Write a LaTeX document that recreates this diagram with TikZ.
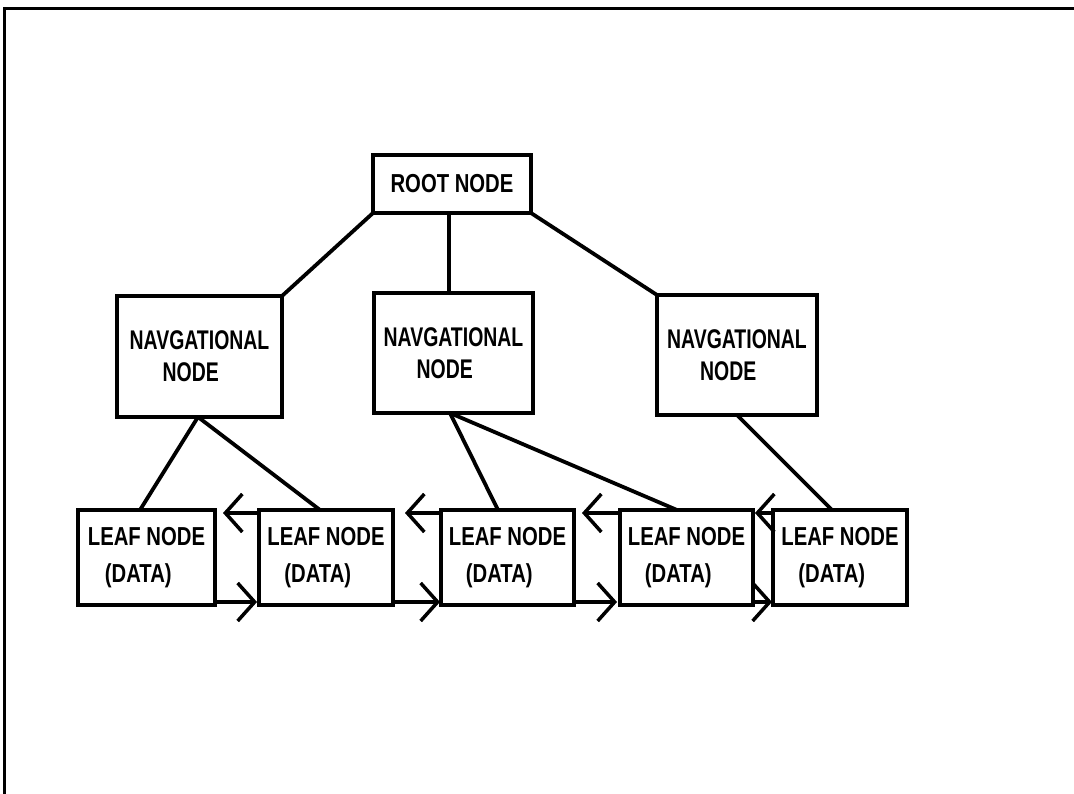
\documentclass[tikz,border=0pt]{standalone}
\usepackage{fontspec}
\setmainfont{Liberation Sans}[FakeStretch=0.78]
\newfontfamily\navfont{Liberation Sans}[FakeStretch=0.72]
\usetikzlibrary{arrows.meta,calc}
\begin{document}
\begin{tikzpicture}[x=1pt,y=-1pt,
  box/.style={draw, line width=3.5pt, inner sep=0pt, outer sep=0pt, align=left},
  rootbox/.style={box, minimum width=158pt, minimum height=58pt, font=\fontsize{26}{30}\selectfont\bfseries},
  navbox/.style={box, minimum height=120pt, font=\navfont\fontsize{27}{32}\selectfont\bfseries},
  leafbox/.style={box, minimum height=95pt, font=\fontsize{26}{37}\selectfont\bfseries},
  link/.style={line width=3.8pt},
  chev/.style={line width=3.5pt, -{Straight Barb[length=17pt,width=38pt,line width=3.5pt]}}
]
\useasboundingbox (0,0) rectangle (1074,794);
\draw[line width=3pt] (4,794) -- (4,9) -- (1074,9);

\node[rootbox] (root) at (452,184) {ROOT NODE};

\node[navbox, minimum width=165pt, minimum height=121pt] (n1) at (199.5,356.5) {NAVGATIONAL\\\hspace*{33pt}NODE};
\node[navbox, minimum width=159pt] (n2) at (453.5,353) {NAVGATIONAL\\\hspace*{33pt}NODE};
\node[navbox, minimum width=160pt] (n3) at (737,355) {NAVGATIONAL\\\hspace*{33pt}NODE};

\node[leafbox, minimum width=137pt] (l1) at (146.5,557.5) {LEAF NODE\\\hspace*{17pt}(DATA)};
\node[leafbox, minimum width=134pt] (l2) at (326,557.5) {LEAF NODE\\\hspace*{17pt}(DATA)};
\node[leafbox, minimum width=133pt] (l3) at (507.5,557.5) {LEAF NODE\\\hspace*{17pt}(DATA)};
\node[leafbox, minimum width=133pt] (l4) at (686.5,557.5) {LEAF NODE\\\hspace*{17pt}(DATA)};
\node[leafbox, minimum width=134pt] (l5) at (840,557.5) {LEAF NODE\\\hspace*{17pt}(DATA)};

\draw[link] (root.south west) -- (n1.north east);
\draw[link] ($(root.south)+(-3,0)$) -- ($(n2.north)+(-4.5,0)$);
\draw[link] (root.south east) -- (n3.north west);

\draw[link] ($(n1.south)+(-1.5,0)$) -- ($(l1.north)+(-6.5,0)$);
\draw[link] ($(n1.south)+(-1.5,0)$) -- ($(l2.north)+(-6,0)$);
\draw[link] ($(n2.south)+(-3.5,0)$) -- ($(l3.north)+(-9.5,0)$);
\draw[link] ($(n2.south)+(-3.5,0)$) -- ($(l4.north)+(-9.5,0)$);
\draw[link] (n3.south) -- ($(l5.north)+(-8,0)$);

\draw[chev] ($(l2.north west)+(0,3)$) -- ($(l1.north east)+(8,3)$);
\draw[chev] ($(l3.north west)+(0,3)$) -- ($(l2.north east)+(12,3)$);
\draw[chev] ($(l4.north west)+(0,3)$) -- ($(l3.north east)+(8,3)$);
\draw[chev] ($(l5.north west)+(0,3)$) -- ($(l4.north east)+(2,3)$);

\draw[chev] ($(l1.south east)+(0,-3)$) -- ($(l2.south west)+(-2,-3)$);
\draw[chev] ($(l2.south east)+(0,-3)$) -- ($(l3.south west)+(-1,-3)$);
\draw[chev] ($(l3.south east)+(0,-3)$) -- ($(l4.south west)+(-3,-3)$);
\draw[chev] ($(l4.south east)+(0,-3)$) -- ($(l5.south west)+(-1,-3)$);
\end{tikzpicture}
\end{document}
